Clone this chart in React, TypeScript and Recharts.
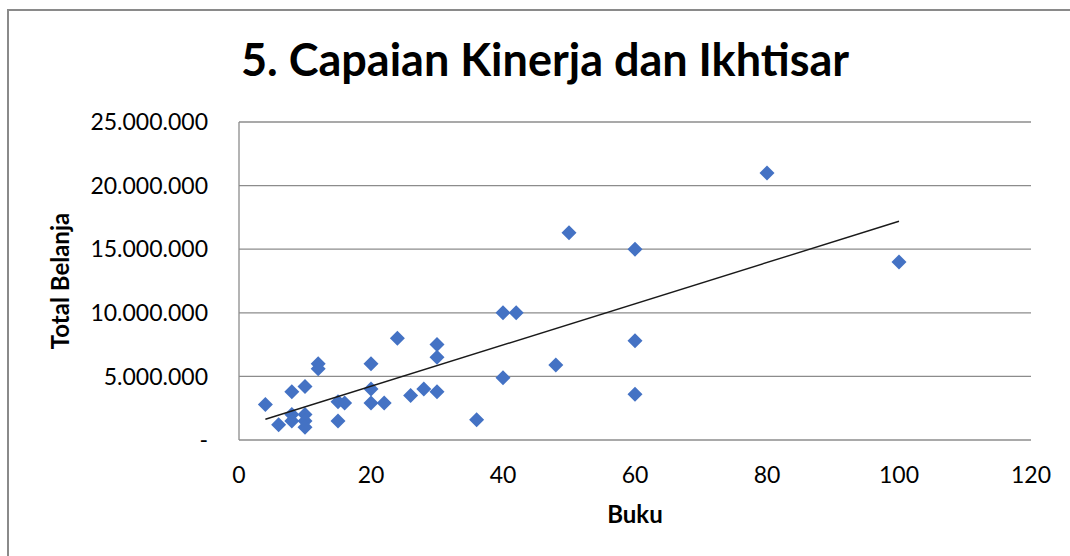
import React from "react";
import { ScatterChart, Scatter, XAxis, YAxis, CartesianGrid } from "recharts";

// Buku (x) vs Total Belanja (y)
const bukuValues = [4, 6, 8, 8, 8, 10, 10, 10, 10, 12, 12, 15, 15, 16, 20, 20, 20, 22, 24, 26, 28, 30, 30, 30, 36, 40, 42, 40, 48, 50, 60, 60, 60, 80, 100];
const belanjaValues = [
  2800000, 1200000, 3800000, 2000000, 1500000, 4200000, 2000000, 1500000, 1000000, 6000000, 5600000, 3000000, 1500000,
  2900000, 6000000, 4000000, 2900000, 2900000, 8000000, 3500000, 4000000, 7500000, 6500000, 3800000, 1600000, 10000000,
  10000000, 4900000, 5900000, 16300000, 15000000, 7800000, 3600000, 21000000, 14000000,
];
const xTicks = [0, 20, 40, 60, 80, 100, 120];
const yTicks = [0, 5000000, 10000000, 15000000, 20000000, 25000000];

const FONT = "Lato, 'Open Sans', sans-serif";
const BLUE = "#4472C4";
const GRID = "#8c8c8c";

const points = bukuValues.map((x, i) => ({ x, y: belanjaValues[i] }));

// linear trendline (least squares), like Excel's
function trendLine(pts: { x: number; y: number }[]) {
  const n = pts.length;
  const mx = pts.reduce((s, p) => s + p.x, 0) / n;
  const my = pts.reduce((s, p) => s + p.y, 0) / n;
  let sxy = 0;
  let sxx = 0;
  pts.forEach((p) => {
    sxy += (p.x - mx) * (p.y - my);
    sxx += (p.x - mx) * (p.x - mx);
  });
  const slope = sxy / sxx;
  const xs = pts.map((p) => p.x);
  const x0 = Math.min(...xs);
  const x1 = Math.max(...xs);
  return [
    { x: x0, y: my + slope * (x0 - mx) },
    { x: x1, y: my + slope * (x1 - mx) },
  ];
}
const trend = trendLine(points);

function fmtRupiah(v: number) {
  if (v === 0) return "-";
  return String(Math.round(v)).replace(/\B(?=(\d{3})+(?!\d))/g, ".");
}

function Diamond(props: { cx?: number; cy?: number }) {
  const { cx, cy } = props;
  if (cx == null || cy == null) return null;
  const r = 7.5;
  return <polygon points={`${cx},${cy - r} ${cx + r},${cy} ${cx},${cy + r} ${cx - r},${cy}`} fill={BLUE} />;
}

export default function App() {
  return (
    <div style={{ position: "relative", width: 1070, height: 556, background: "#fff", overflow: "hidden", fontFamily: FONT }}>
      <style>{`body{margin:0}`}</style>
      <div
        style={{
          position: "absolute",
          left: 7,
          top: 9,
          width: 1100,
          height: 600,
          borderLeft: "2px solid #8a8a8a",
          borderTop: "2px solid #8a8a8a",
        }}
      />
      <div
        style={{
          position: "absolute",
          left: 0,
          width: 1090,
          top: 30,
          textAlign: "center",
          fontSize: 45,
          fontWeight: 700,
          color: "#000",
          lineHeight: "58px",
        }}
      >
        5. Capaian Kinerja dan Ikhtisar
      </div>
      <div style={{ position: "absolute", left: 0, top: 0 }}>
        <ScatterChart width={1070} height={556} margin={{ top: 122, right: 39, bottom: 25, left: 0 }}>
          <CartesianGrid vertical={false} stroke={GRID} strokeWidth={1.3} horizontalValues={yTicks} />
          <XAxis
            type="number"
            dataKey="x"
            domain={[0, 120]}
            ticks={xTicks}
            height={91}
            axisLine={false}
            tickLine={false}
            tickSize={0}
            tickMargin={27}
            tick={{ fontSize: 23, fill: "#000", fontFamily: FONT }}
            label={{ value: "Buku", position: "insideBottom", offset: 0, dy: -8, fontSize: 24, fontWeight: 700, fill: "#000", fontFamily: FONT }}
          />
          <YAxis
            type="number"
            dataKey="y"
            domain={[0, 25000000]}
            ticks={yTicks}
            width={239}
            axisLine={{ stroke: GRID, strokeWidth: 1.3 }}
            tickLine={false}
            tickSize={0}
            tickMargin={31}
            tickFormatter={fmtRupiah}
            tick={{ fontSize: 23, fill: "#000", fontFamily: FONT }}
            label={{
              value: "Total Belanja",
              angle: -90,
              position: "insideLeft",
              offset: 0,
              dx: 60,
              fontSize: 24,
              fontWeight: 700,
              fill: "#000",
              fontFamily: FONT,
              style: { textAnchor: "middle" },
            }}
          />
          <Scatter data={points} fill={BLUE} shape={<Diamond />} isAnimationActive={false} />
          <Scatter
            data={trend}
            line={{ stroke: "#1a1a1a", strokeWidth: 1.4 }}
            shape={() => null}
            isAnimationActive={false}
          />
        </ScatterChart>
      </div>
    </div>
  );
}
